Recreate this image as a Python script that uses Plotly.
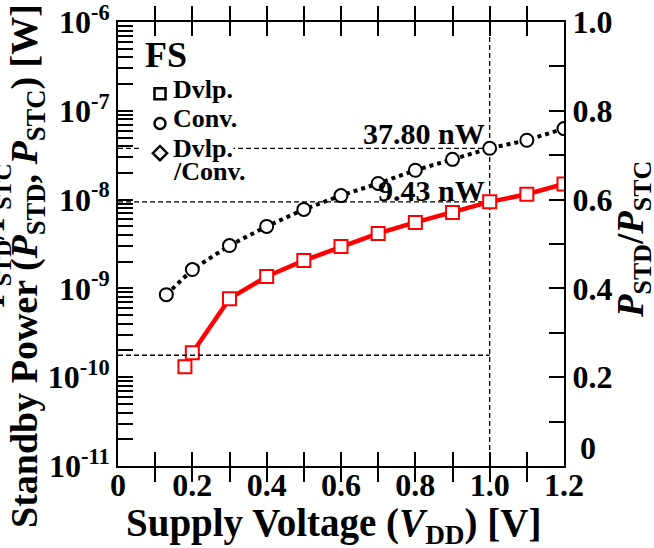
import math
import plotly.graph_objects as go

# ---------------- data ----------------
v_conv = [0.13, 0.2, 0.3, 0.4, 0.5, 0.6, 0.7, 0.8, 0.9, 1.0, 1.1, 1.2]
p_conv = [8.5e-10, 1.63e-9, 3.04e-9, 4.99e-9, 7.75e-9, 1.11e-8, 1.52e-8,
          2.14e-8, 2.84e-8, 3.78e-8, 4.66e-8, 6.3e-8]
v_dvlp = [0.18, 0.2, 0.3, 0.4, 0.5, 0.6, 0.7, 0.8, 0.9, 1.0, 1.1, 1.2]
p_dvlp = [1.31e-10, 1.88e-10, 7.67e-10, 1.36e-9, 2.06e-9, 2.97e-9, 4.16e-9,
          5.53e-9, 7.18e-9, 9.43e-9, 1.15e-8, 1.5e-8]

v_ref = 1.0                       # reference supply voltage
p_conv_ref = 37.80e-9             # 37.80 nW
p_dvlp_ref = 9.43e-9              # 9.43 nW
ratio_ref = p_dvlp_ref / p_conv_ref

x_ticks = [0, 0.1, 0.2, 0.3, 0.4, 0.5, 0.6, 0.7, 0.8, 0.9, 1.0, 1.1, 1.2]
x_ticklabels = ["0", "", "0.2", "", "0.4", "", "0.6", "", "0.8", "", "1.0", "", "1.2"]
y_exps = [-11, -10, -9, -8, -7, -6]
y_decade_labels = ["10<sup>-11</sup>", "10<sup>-10</sup>", "10<sup>-9</sup>",
                   "10<sup>-8</sup>", "10<sup>-7</sup>", "10<sup>-6</sup>"]
y2_ticks = [0, 0.1, 0.2, 0.3, 0.4, 0.5, 0.6, 0.7, 0.8, 0.9, 1.0]
y2_ticklabels = ["", "", "0.2", "", "0.4", "", "0.6", "", "0.8", "", "1.0"]

legend_names = ["Dvlp.", "Conv.", "Dvlp."]
legend_symbols = ["square-open", "circle-open", "diamond-open"]

FONT = "Liberation Serif"
W, H = 654, 548
ML, MR, MT, MB = 118, 90, 22, 82
PW, PH = W - ML - MR, H - MT - MB


def px_x(px):
    return (px - ML) / PW


def px_y(py):
    return 1 - (py - MT) / PH


# log-axis tick positions: decades with labels, 2..9 without
y_tickvals, y_ticktext = [], []
for i, e in enumerate(y_exps):
    y_tickvals.append(10.0 ** e)
    y_ticktext.append(y_decade_labels[i])
    if e != y_exps[-1]:
        for k in range(2, 10):
            y_tickvals.append(k * 10.0 ** e)
            y_ticktext.append("")

fig = go.Figure()

dash = "5px,3px"
ref_line = dict(color="black", width=1.3, dash=dash)
fig.add_trace(go.Scatter(x=[v_ref, v_ref], y=[10.0 ** y_exps[0], 10.0 ** y_exps[-1]],
                         mode="lines", line=ref_line, showlegend=False, hoverinfo="skip"))
fig.add_trace(go.Scatter(x=[0, v_ref], y=[p_conv_ref, p_conv_ref], mode="lines",
                         line=ref_line, showlegend=False, hoverinfo="skip"))
fig.add_trace(go.Scatter(x=[0, v_ref], y=[p_dvlp_ref, p_dvlp_ref], mode="lines",
                         line=ref_line, showlegend=False, hoverinfo="skip"))
fig.add_trace(go.Scatter(x=[0, v_ref], y=[ratio_ref, ratio_ref], mode="lines", yaxis="y2",
                         line=ref_line, showlegend=False, hoverinfo="skip"))

# data series
fig.add_trace(go.Scatter(x=v_conv, y=p_conv, mode="lines+markers",
                         line=dict(color="black", width=4, dash="dot"),
                         marker=dict(symbol="circle", size=13, color="white",
                                     line=dict(color="black", width=2)),
                         showlegend=False))
fig.add_trace(go.Scatter(x=v_dvlp, y=p_dvlp, mode="lines+markers",
                         line=dict(color="#ff0000", width=4.5),
                         marker=dict(symbol="square", size=13, color="white",
                                     line=dict(color="#ff0000", width=2)),
                         showlegend=False))

# legend-only symbols (text is added as annotations)
for name, sym in zip(legend_names, legend_symbols):
    fig.add_trace(go.Scatter(x=[None], y=[None], mode="markers", name=" ",
                             marker=dict(symbol=sym, size=11, color="black",
                                         line=dict(color="black", width=2.5)),
                             showlegend=True))

anns = []
anns.append(dict(text="FS", x=px_x(143), y=px_y(55), xref="paper", yref="paper",
                 xanchor="left", yanchor="middle", showarrow=False,
                 font=dict(size=36)))
leg_rows = [("Dvlp.", 89, None), ("Conv.", 118, None), ("Dvlp.", 148, "white"),
            ("/Conv.", 171, None)]
for t, yy, bg in leg_rows:
    anns.append(dict(text=t, x=px_x(172), y=px_y(yy), xref="paper", yref="paper",
                     xanchor="left", yanchor="middle", showarrow=False,
                     bgcolor=bg if bg else "rgba(0,0,0,0)", borderpad=0,
                     font=dict(size=26)))

anns.append(dict(text="37.80 nW", x=0.993, y=math.log10(p_conv_ref), xref="x", yref="y",
                 xanchor="right", yanchor="bottom", yshift=-4, showarrow=False,
                 font=dict(size=30)))
anns.append(dict(text="9.43 nW", x=0.993, y=math.log10(p_dvlp_ref), xref="x", yref="y",
                 xanchor="right", yanchor="bottom", yshift=-7, showarrow=False,
                 font=dict(size=30)))
anns.append(dict(text="0", x=px_x(588), y=px_y(448), xref="paper", yref="paper",
                 xanchor="center", yanchor="middle", showarrow=False, font=dict(size=32)))
anns.append(dict(text="Standby Power (<i>P</i><sub>STD</sub>, <i>P</i><sub>STC</sub>) [W]",
                 textangle=-90, x=px_x(27), y=px_y(266), xref="paper", yref="paper",
                 xanchor="center", yanchor="middle", showarrow=False, font=dict(size=38)))
anns.append(dict(text="<i>P</i><sub>STD</sub>/<i>P</i><sub>STC</sub>",
                 textangle=-90, x=px_x(-5), y=px_y(235), xref="paper", yref="paper",
                 xanchor="center", yanchor="middle", showarrow=False, font=dict(size=34)))
anns.append(dict(text="<i>P</i><sub>STD</sub>/<i>P</i><sub>STC</sub>",
                 textangle=-90, x=px_x(633), y=px_y(240), xref="paper", yref="paper",
                 xanchor="center", yanchor="middle", showarrow=False, font=dict(size=37)))
anns.append(dict(text="Supply Voltage (<i>V</i><sub>DD</sub>) [V]",
                 x=px_x(333), y=px_y(525), xref="paper", yref="paper",
                 xanchor="center", yanchor="middle", showarrow=False, font=dict(size=39)))

axis_common = dict(ticks="inside", tickwidth=1.6, tickcolor="black",
                   showline=True, linecolor="black", linewidth=2,
                   showgrid=False, zeroline=False, automargin=False,
                   ticklabeloverflow="allow", tickfont=dict(size=32))

fig.update_layout(
    template="none",
    width=W, height=H,
    margin=dict(l=ML, r=MR, t=MT, b=MB, autoexpand=False),
    paper_bgcolor="white", plot_bgcolor="white",
    font=dict(family=FONT, size=32, color="black", weight="bold"),
    showlegend=True,
    legend=dict(x=px_x(140), y=px_y(74), xanchor="left", yanchor="top",
                bgcolor="white", borderwidth=0, font=dict(size=20.5),
                itemwidth=30, tracegroupgap=0),
    annotations=anns,
    xaxis=dict(range=[0, 1.2], tickmode="array", tickvals=x_ticks, ticktext=x_ticklabels,
               ticklen=14, mirror="allticks", ticklabelstandoff=-10, **axis_common),
    yaxis=dict(type="log", range=[-11, -6], tickmode="array",
               tickvals=y_tickvals, ticktext=y_ticktext, ticklen=15, mirror=False,
               **axis_common),
    yaxis2=dict(overlaying="y", side="right", range=[0, 1], tickmode="array",
                tickvals=y2_ticks, ticktext=y2_ticklabels, ticklen=15,
                **axis_common),
)

fig.write_html("out.html")
